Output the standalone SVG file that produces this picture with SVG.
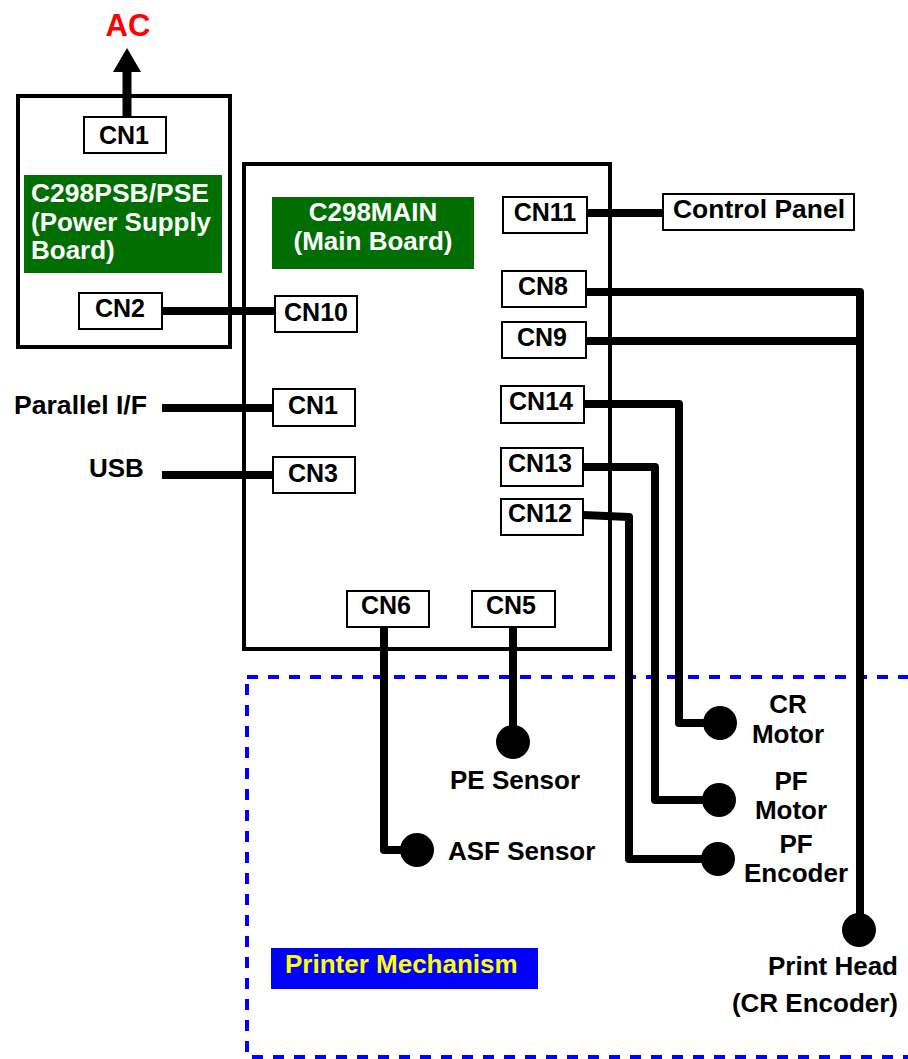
<svg xmlns="http://www.w3.org/2000/svg" width="908" height="1059" viewBox="0 0 908 1059">
<style>
text{font-family:"Liberation Sans",Arial,sans-serif;font-weight:bold;}
.board{fill:#fff;stroke:#000;stroke-width:4;}
.cn{fill:#fff;stroke:#000;stroke-width:2;}
.cnt{font-size:25px;fill:#000;text-anchor:middle;}
.lbl{font-size:26px;fill:#000;}
.wt{font-size:26px;fill:#fff;}
.wire{fill:none;stroke:#000;stroke-width:8;stroke-linejoin:round;}
.dot{fill:#000;}
</style>
<rect id="mechanism" x="247" y="677" width="700" height="380" fill="none" stroke="#0000ff" stroke-width="4" stroke-dasharray="11 10"/>
<g id="psb">
<rect class="board" x="18" y="96" width="212" height="251"/>
<rect x="24" y="175" width="198" height="98" fill="#006e00"/>
<text class="wt" x="31" y="202" textLength="178" lengthAdjust="spacingAndGlyphs">C298PSB/PSE</text>
<text class="wt" x="31" y="231" textLength="180" lengthAdjust="spacingAndGlyphs">(Power Supply</text>
<text class="wt" x="31" y="259">Board)</text>
</g>
<g id="main">
<rect class="board" x="244" y="164" width="366" height="485"/>
<rect x="272" y="197" width="202" height="72" fill="#006e00"/>
<text class="wt" x="373" y="221" text-anchor="middle">C298MAIN</text>
<text class="wt" x="373" y="250" text-anchor="middle">(Main Board)</text>
</g>
<g id="connectors">
<line x1="127" y1="117" x2="127" y2="70" stroke="#000" stroke-width="9"/>
<polygon points="113,72 141,72 127,48" fill="#000"/>
<line class="wire" x1="162" y1="311" x2="275" y2="311"/>
<line class="wire" x1="162" y1="408" x2="273" y2="408"/>
<line class="wire" x1="162" y1="475" x2="273" y2="475"/>
<line class="wire" x1="587" y1="213" x2="663" y2="213"/>
<polyline class="wire" points="586,292 860,292 860,930"/>
<line class="wire" x1="586" y1="341" x2="860" y2="341"/>
<polyline class="wire" points="584,404 679,404 679,723 720,723"/>
<polyline class="wire" points="583,467 655,467 655,800 719,800"/>
<polyline class="wire" points="583,515 629,517 629,859 718,859" stroke-width="7"/>
<line class="wire" x1="513" y1="627" x2="513" y2="742"/>
<polyline class="wire" points="384,627 384,850 417,850"/>
</g>
<g id="ac"><text x="128" y="36" font-size="31px" fill="#ff0000" text-anchor="middle">AC</text></g>
<g id="psb-cn1"><rect class="cn" x="84" y="117" width="82" height="36"/><text class="cnt" x="124" y="144">CN1</text></g>
<g id="psb-cn2"><rect class="cn" x="79" y="293" width="83" height="36"/><text class="cnt" x="120" y="317">CN2</text></g>
<g id="cn10"><rect class="cn" x="275" y="296" width="82" height="36"/><text class="cnt" x="316" y="321">CN10</text></g>
<g id="cn1"><rect class="cn" x="273" y="389" width="82" height="37"/><text class="cnt" x="313" y="414">CN1</text></g>
<g id="cn3"><rect class="cn" x="273" y="457" width="82" height="36"/><text class="cnt" x="313" y="482">CN3</text></g>
<g id="cn11"><rect class="cn" x="503" y="197" width="84" height="36"/><text class="cnt" x="545" y="221">CN11</text></g>
<g id="cn8"><rect class="cn" x="502" y="271" width="84" height="36"/><text class="cnt" x="543" y="295">CN8</text></g>
<g id="cn9"><rect class="cn" x="502" y="322" width="84" height="36"/><text class="cnt" x="542" y="346">CN9</text></g>
<g id="cn14"><rect class="cn" x="501" y="386" width="83" height="37"/><text class="cnt" x="541" y="410">CN14</text></g>
<g id="cn13"><rect class="cn" x="501" y="448" width="82" height="38"/><text class="cnt" x="540" y="472">CN13</text></g>
<g id="cn12"><rect class="cn" x="501" y="499" width="82" height="36"/><text class="cnt" x="540" y="522">CN12</text></g>
<g id="cn6"><rect class="cn" x="347" y="591" width="82" height="36"/><text class="cnt" x="386" y="614">CN6</text></g>
<g id="cn5"><rect class="cn" x="472" y="591" width="83" height="36"/><text class="cnt" x="511" y="614">CN5</text></g>
<g id="control-panel"><rect class="cn" x="663" y="194" width="191" height="36"/><text class="lbl" x="673" y="218" font-size="25px" textLength="172" lengthAdjust="spacingAndGlyphs">Control Panel</text></g>
<g id="parallel"><text class="lbl" x="14" y="414" textLength="133" lengthAdjust="spacingAndGlyphs">Parallel I/F</text></g>
<g id="usb"><text class="lbl" x="89" y="477">USB</text></g>
<g id="pe-sensor"><circle class="dot" cx="513" cy="742" r="17"/><text class="lbl" x="515" y="789" text-anchor="middle">PE Sensor</text></g>
<g id="asf-sensor"><circle class="dot" cx="417" cy="850" r="17"/><text class="lbl" x="448" y="860">ASF Sensor</text></g>
<g id="cr-motor"><circle class="dot" cx="720" cy="723" r="17"/><text class="lbl" x="788" y="713" text-anchor="middle">CR</text><text class="lbl" x="788" y="743" text-anchor="middle">Motor</text></g>
<g id="pf-motor"><circle class="dot" cx="719" cy="800" r="17"/><text class="lbl" x="791" y="790" text-anchor="middle">PF</text><text class="lbl" x="791" y="819" text-anchor="middle">Motor</text></g>
<g id="pf-encoder"><circle class="dot" cx="718" cy="859" r="17"/><text class="lbl" x="796" y="853" text-anchor="middle">PF</text><text class="lbl" x="796" y="882" text-anchor="middle">Encoder</text></g>
<g id="print-head"><circle class="dot" cx="859" cy="930" r="17"/><text class="lbl" x="898" y="975" text-anchor="end">Print Head</text><text class="lbl" x="898" y="1012" text-anchor="end">(CR Encoder)</text></g>
<g id="printer-mechanism"><rect x="271" y="948" width="267" height="41" fill="#0000ff"/><text x="285" y="973" font-size="26px" fill="#ffff00">Printer Mechanism</text></g>
</svg>
